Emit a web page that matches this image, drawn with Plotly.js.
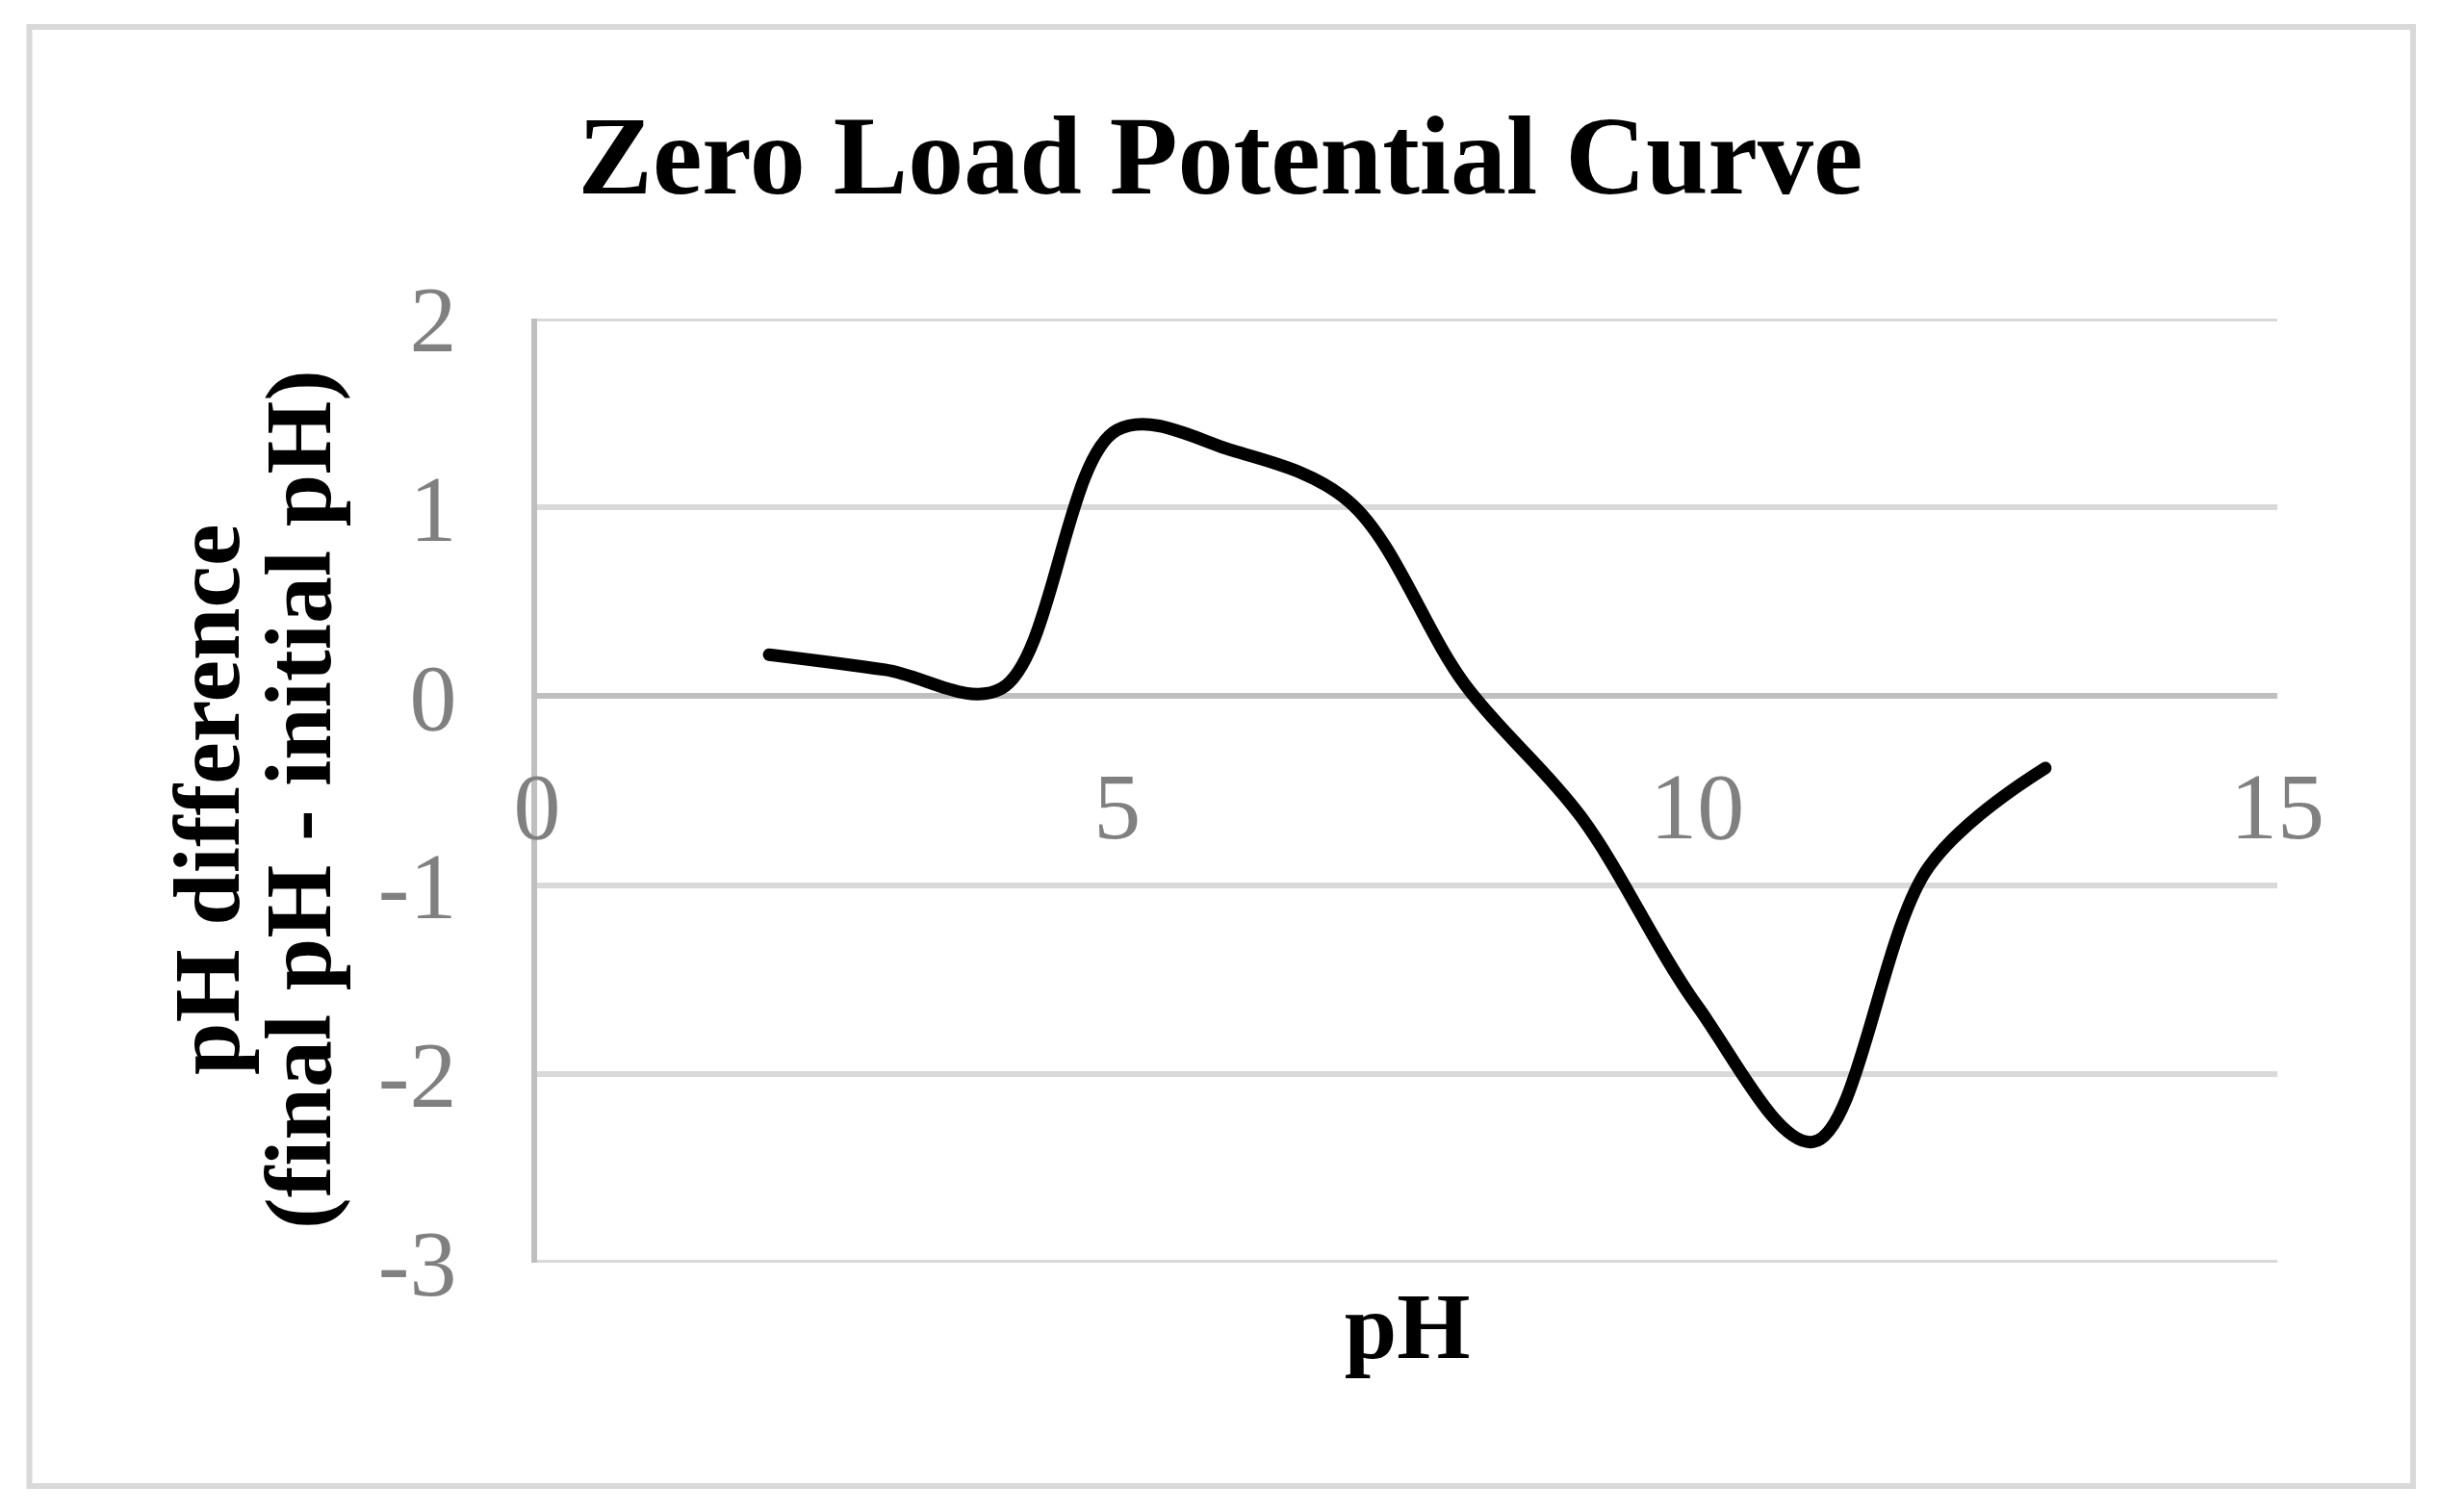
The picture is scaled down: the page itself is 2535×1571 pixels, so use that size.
<!DOCTYPE html>
<html>
<head>
<meta charset="utf-8">
<script src="https://cdn.plot.ly/plotly-3.0.1.min.js"></script>
<style>
  html, body { margin: 0; padding: 0; background: #ffffff; }
  #chart { width: 2535px; height: 1571px; }
  #chart path.js-line { stroke-linecap: round !important; stroke-linejoin: round !important; }
</style>
</head>
<body>
<div id="chart"></div>
<script>
// ---- data ----
const chartTitle = "Zero Load Potential Curve";
const xTitle = "pH";
const yTitleLine1 = "pH difference";
const yTitleLine2 = "(final pH - initial pH)";
const initialPH = [2, 3, 4, 5, 6, 7, 8, 9, 10, 11, 12, 13];
const phDifference = [0.22, 0.14, 0.04, 1.41, 1.30, 1.03, 0.06, -0.64, -1.64, -2.36, -0.90, -0.38];
const xTicks = [0, 5, 10, 15];
const yTicks = [-3, -2, -1, 0, 1, 2];

// ---- layout geometry ----
const W = 2535, H = 1571;
const plotL = 558, plotR = 2366, plotT = 331, plotB = 1312;
const pw = plotR - plotL, ph = plotB - plotT;
const px = v => (v - plotL) / pw;            // pixel -> paper x
const py = v => (plotB - v) / ph;            // pixel -> paper y

const serif = "'Liberation Serif', 'Times New Roman', serif";
const yMin = Math.min(...yTicks), yMax = Math.max(...yTicks);

const trace = {
  x: initialPH,
  y: phDifference,
  type: 'scatter',
  mode: 'lines',
  line: { color: '#000000', width: 13, shape: 'spline', smoothing: 1 },
  hoverinfo: 'skip',
  showlegend: false
};

// gridlines at the two ends of the value range (Plotly omits them at the frame edges)
const edgeGrid = [yMin, yMax].map(v => ({
  type: 'line', xref: 'paper', yref: 'y',
  x0: 0, x1: 1, y0: v, y1: v,
  line: { color: '#d9d9d9', width: 6 },
  layer: 'below'
}));

const layout = {
  width: W, height: H,
  paper_bgcolor: '#ffffff', plot_bgcolor: '#ffffff',
  margin: { l: plotL, r: W - plotR, t: plotT, b: H - plotB, pad: 0 },
  showlegend: false,
  title: {
    text: '<b>' + chartTitle + '</b>',
    font: { family: serif, size: 116, color: '#000000' },
    x: px(1268), xref: 'paper', xanchor: 'center',
    y: 1 - 160 / H, yref: 'container', yanchor: 'middle'
  },
  xaxis: {
    range: [0, 15],
    tickvals: xTicks,
    ticktext: xTicks.map(String),
    showgrid: false,
    zeroline: false,
    showline: false,
    ticks: '',
    anchor: 'free',
    position: (0 - yMin) / (yMax - yMin),
    ticklabelstandoff: 49,
    tickfont: { family: serif, size: 98, color: '#808080' },
    title: {
      text: '<b>' + xTitle + '</b>',
      font: { family: serif, size: 98, color: '#000000' },
      standoff: 450
    },
    fixedrange: true
  },
  yaxis: {
    range: [yMin, yMax],
    tickvals: yTicks,
    ticktext: yTicks.map(String),
    showgrid: true,
    gridcolor: '#d9d9d9',
    gridwidth: 6,
    zeroline: true,
    zerolinecolor: '#bfbfbf',
    zerolinewidth: 6,
    showline: true,
    linecolor: '#bfbfbf',
    linewidth: 6,
    ticks: '',
    ticklabelstandoff: 58,
    tickfont: { family: serif, size: 98, color: '#808080' },
    fixedrange: true
  },
  annotations: [
    {
      text: '<b>' + yTitleLine1 + '</b>',
      xref: 'paper', yref: 'paper',
      x: px(215), y: py(831),
      xanchor: 'center', yanchor: 'middle',
      textangle: -90, showarrow: false,
      font: { family: serif, size: 98, color: '#000000' }
    },
    {
      text: '<b>' + yTitleLine2 + '</b>',
      xref: 'paper', yref: 'paper',
      x: px(310), y: py(831),
      xanchor: 'center', yanchor: 'middle',
      textangle: -90, showarrow: false,
      font: { family: serif, size: 98, color: '#000000' }
    }
  ],
  shapes: [
    {
      type: 'rect', xref: 'paper', yref: 'paper',
      x0: px(30.5), x1: px(2507), y0: py(1544), y1: py(28),
      line: { color: '#d9d9d9', width: 6 },
      fillcolor: 'rgba(0,0,0,0)', layer: 'below'
    }
  ].concat(edgeGrid)
};

Plotly.newPlot('chart', [trace], layout, { displayModeBar: false, staticPlot: true });
</script>
</body>
</html>
